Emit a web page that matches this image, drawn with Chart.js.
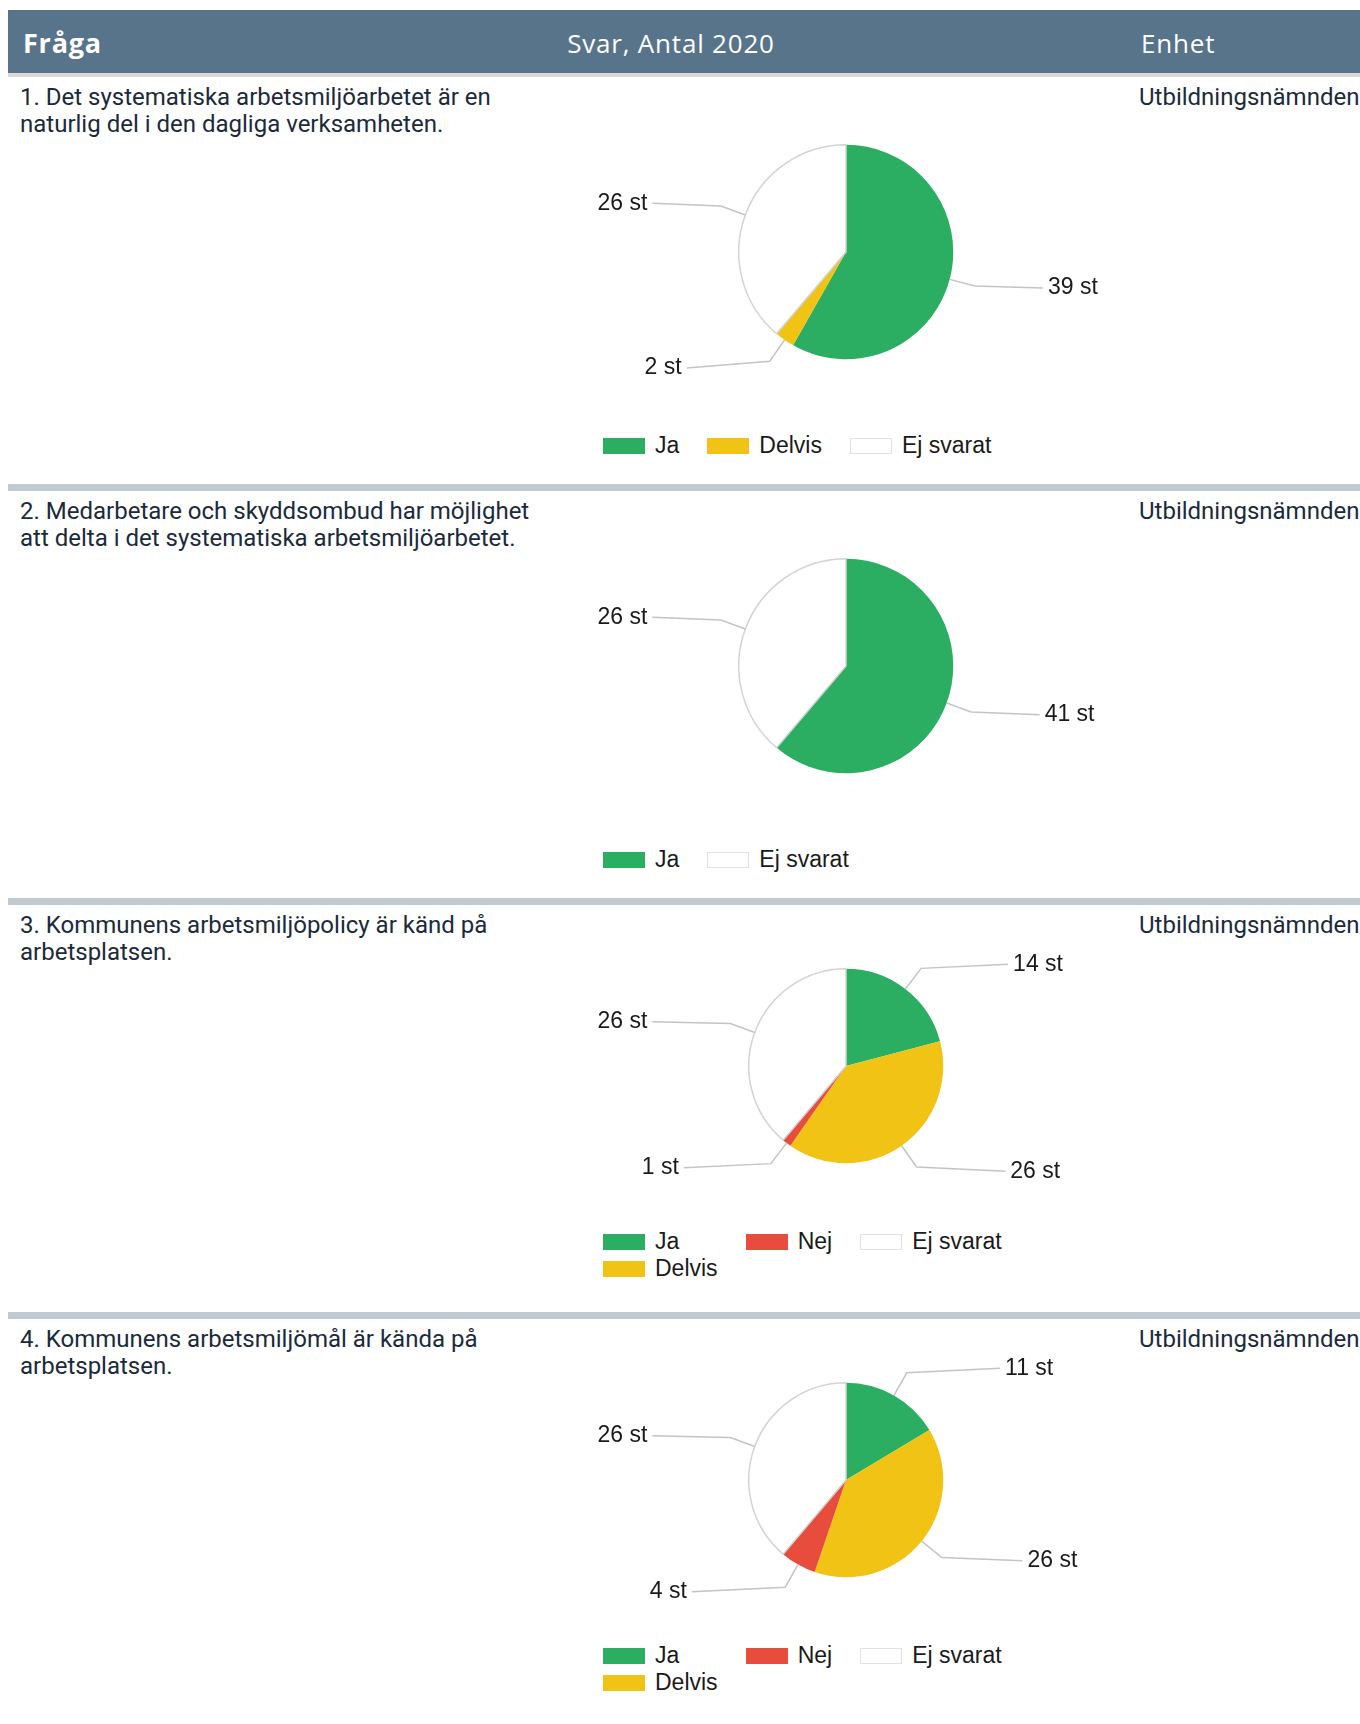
<!DOCTYPE html>
<html>
<head>
<meta charset="utf-8">
<script src="https://cdn.jsdelivr.net/npm/chart.js@4.4.1/dist/chart.umd.min.js"></script>
<style>
  body { margin: 0; background: #fff; width: 1360px; height: 1724px; position: relative; overflow: hidden; }
  .head { position: absolute; left: 8px; top: 10px; width: 1352px; height: 63px; background: #57748b; color: #fff;
          font-family: "Open Sans", sans-serif; font-size: 26px; letter-spacing: 0.8px; }
  .head span { position: absolute; top: 0; line-height: 66px; white-space: nowrap; }
  .headline { position: absolute; left: 8px; top: 73px; width: 1352px; height: 4px; background: #dadada; }
  .row { position: absolute; left: 0; width: 1360px; height: 414px; }
  .sep { position: absolute; left: 8px; top: 407px; width: 1352px; height: 7px; background: #c1c9d1; }
  .q { position: absolute; left: 20px; top: 7px; font-family: Roboto, sans-serif; font-size: 24px; line-height: 27px; color: #1b2a3b; white-space: nowrap; }
  .unit { position: absolute; left: 1139px; top: 7px; font-family: Roboto, sans-serif; font-size: 24px; line-height: 27px; color: #1b2a3b; white-space: nowrap; }
  .chartbox { position: absolute; left: 556px; top: 0; width: 580px; height: 330px; }
  .legend { position: absolute; left: 603px; display: flex; gap: 28px; font-family: "Liberation Sans", Arial, sans-serif; font-size: 23px; color: #1a1a1a; }
  .legend .col { display: flex; flex-direction: column; }
  .legend .item { display: flex; align-items: center; height: 27px; white-space: nowrap; }
  .legend .box { width: 42px; height: 16px; margin-right: 10px; box-sizing: border-box; }
</style>
</head>
<body>
<div class="head">
  <span style="left:15px;font-weight:700;font-size:27px">Fråga</span>
  <span style="left:663px;transform:translateX(-50%)">Svar, Antal 2020</span>
  <span style="left:1133px">Enhet</span>
</div>
<div class="headline"></div>

<script>
// Data
const unitName = 'Utbildningsnämnden';

const q1Text = ['1. Det systematiska arbetsmiljöarbetet är en', 'naturlig del i den dagliga verksamheten.'];
const q1Labels = ['Ja', 'Delvis', 'Ej svarat'];
const q1Values = [39, 2, 26];

const q2Text = ['2. Medarbetare och skyddsombud har möjlighet', 'att delta i det systematiska arbetsmiljöarbetet.'];
const q2Labels = ['Ja', 'Ej svarat'];
const q2Values = [41, 26];

const q3Text = ['3. Kommunens arbetsmiljöpolicy är känd på', 'arbetsplatsen.'];
const q3Labels = ['Ja', 'Delvis', 'Nej', 'Ej svarat'];
const q3Values = [14, 26, 1, 26];

const q4Text = ['4. Kommunens arbetsmiljömål är kända på', 'arbetsplatsen.'];
const q4Labels = ['Ja', 'Delvis', 'Nej', 'Ej svarat'];
const q4Values = [11, 26, 4, 26];

const unitSuffix = ' st';

// Styles
const sliceColors = { 'Ja': '#2bae62', 'Delvis': '#f0c314', 'Nej': '#e84c3d', 'Ej svarat': '#ffffff' };
const outlineColor = '#d3d3d3';

// Outside labels with bent leader lines
const outLabels = {
  id: 'outLabels',
  afterDatasetsDraw(chart) {
    const ctx = chart.ctx;
    const meta = chart.getDatasetMeta(0);
    const values = chart.data.datasets[0].data;
    ctx.save();
    ctx.font = '23px "Liberation Sans", Arial, sans-serif';
    ctx.textBaseline = 'middle';
    meta.data.forEach((arc, i) => {
      const p = arc.getProps(['x', 'y', 'startAngle', 'endAngle', 'outerRadius'], true);
      const mid = (p.startAngle + p.endAngle) / 2;
      const r = p.outerRadius;
      const c = Math.cos(mid), s = Math.sin(mid);
      const right = c >= 0;
      const ex = p.x + r * c, ey = p.y + r * s;
      const bx = p.x + (r + 26) * c, by = p.y + (r + 26) * s;
      // labels sit in loose columns either side, closer in toward top/bottom
      const edge = 206 - 62 * s * s;
      const ax = p.x + (right ? edge - 5 : -(edge - 5));
      const ay = p.y + 1.32 * r * s;
      ctx.strokeStyle = '#c4c4c4';
      ctx.lineWidth = 1.5;
      ctx.beginPath();
      ctx.moveTo(ex, ey);
      ctx.lineTo(bx, by);
      ctx.lineTo(ax, ay);
      ctx.stroke();
      ctx.fillStyle = '#1a1a1a';
      ctx.textAlign = right ? 'left' : 'right';
      ctx.fillText(values[i] + unitSuffix, ax + (right ? 5 : -5), ay);
    });
    ctx.restore();
  }
};

function addRow(index, text, labels, values) {
  const top = 77 + index * 414;
  const row = document.createElement('div');
  row.className = 'row';
  row.style.top = top + 'px';
  document.body.appendChild(row);

  const q = document.createElement('div');
  q.className = 'q';
  q.innerHTML = text.join('<br>');
  row.appendChild(q);

  const unit = document.createElement('div');
  unit.className = 'unit';
  unit.textContent = unitName;
  row.appendChild(unit);

  if (index < 3) {
    const sep = document.createElement('div');
    sep.className = 'sep';
    row.appendChild(sep);
  }

  // legend in columns, filled top to bottom
  const nCols = Math.min(labels.length, 3);
  const nRows = Math.ceil(labels.length / nCols);
  const base = Math.floor(labels.length / nCols), extra = labels.length % nCols;
  const legend = document.createElement('div');
  legend.className = 'legend';
  legend.style.top = (nRows > 1 ? 323 : 355) + 'px';
  let k = 0;
  for (let c = 0; c < nCols; c++) {
    const col = document.createElement('div');
    col.className = 'col';
    const count = base + (c < extra ? 1 : 0);
    for (let j = 0; j < count; j++, k++) {
      const item = document.createElement('div');
      item.className = 'item';
      const box = document.createElement('span');
      box.className = 'box';
      box.style.background = sliceColors[labels[k]];
      if (labels[k] === 'Ej svarat') box.style.border = '1px solid #e2e2e2';
      item.appendChild(box);
      item.appendChild(document.createTextNode(labels[k]));
      col.appendChild(item);
    }
    legend.appendChild(col);
  }
  row.appendChild(legend);

  // pie geometry depends on legend height
  const radius = nRows > 1 ? 98 : 108;
  const centerY = nRows > 1 ? 161 : 175;
  const boxH = 330;
  const wrap = document.createElement('div');
  wrap.className = 'chartbox';
  const canvas = document.createElement('canvas');
  wrap.appendChild(canvas);
  row.appendChild(wrap);

  new Chart(canvas, {
    type: 'pie',
    data: {
      labels: labels,
      datasets: [{
        data: values,
        backgroundColor: labels.map(l => sliceColors[l]),
        borderColor: labels.map(l => l === 'Ej svarat' ? outlineColor : sliceColors[l]),
        borderWidth: labels.map(l => l === 'Ej svarat' ? 1.5 : 0)
      }]
    },
    options: {
      responsive: true,
      maintainAspectRatio: false,
      animation: false,
      layout: { padding: { top: centerY - radius, bottom: boxH - centerY - radius, left: 0, right: 0 } },
      plugins: { legend: { display: false }, tooltip: { enabled: false } }
    },
    plugins: [outLabels]
  });
}

addRow(0, q1Text, q1Labels, q1Values);
addRow(1, q2Text, q2Labels, q2Values);
addRow(2, q3Text, q3Labels, q3Values);
addRow(3, q4Text, q4Labels, q4Values);
</script>
</body>
</html>
